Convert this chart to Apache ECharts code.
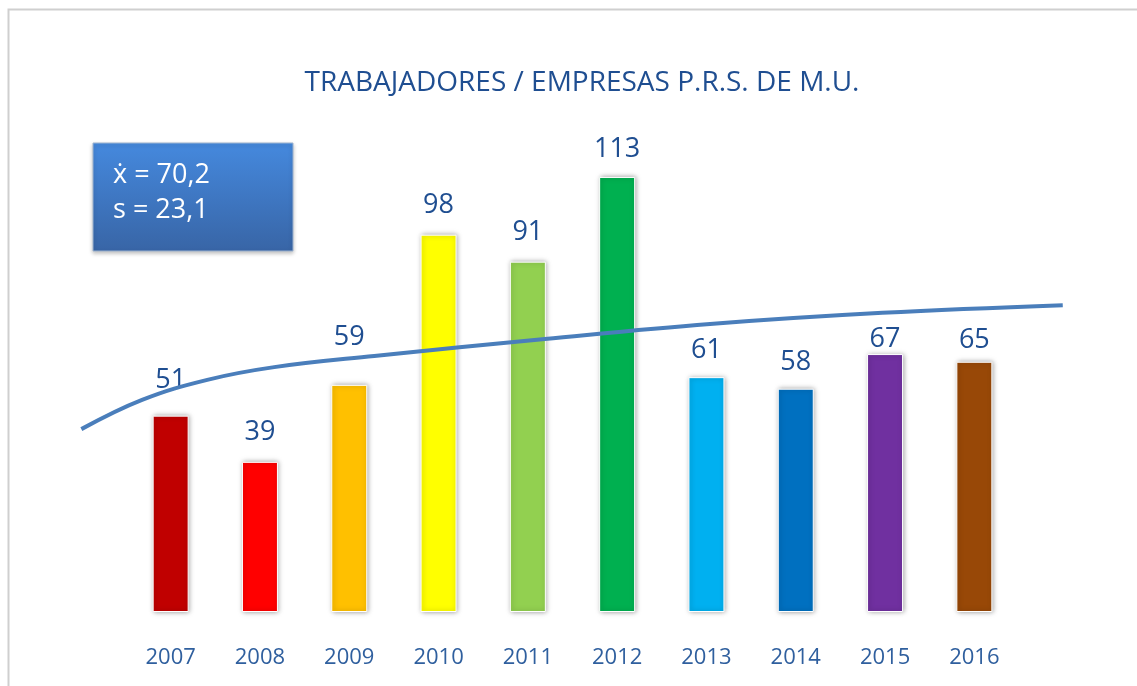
<!DOCTYPE html>
<html>
<head>
<meta charset="utf-8">
<script src="https://cdn.jsdelivr.net/npm/echarts@6/dist/echarts.min.js"></script>
<style>
  html, body { margin: 0; padding: 0; background: #fff; }
  #chart { width: 1137px; height: 686px; }
</style>
</head>
<body>
<div id="chart"></div>
<script>
const years = ["2007", "2008", "2009", "2010", "2011", "2012", "2013", "2014", "2015", "2016"];
const workers = [51, 39, 59, 98, 91, 113, 61, 58, 67, 65];
const barColors = ["#C00000", "#FF0000", "#FFC000", "#FFFF00", "#92D050", "#00B050", "#00B0F0", "#0070C0", "#7030A0", "#984807"];
// log trendline: [position in category units, value]
const trendPoints = [
  [-1.0, 47.5], [-0.32, 55.1], [0.41, 60.3], [1.16, 63.6], [2.28, 66.5],
  [4.19, 70.9], [6.04, 74.8], [7.97, 77.7], [9.99, 79.7]
];
const statsLines = ["ẋ = 70,2", "s = 23,1"];

// some value labels were moved by hand in the original to dodge the trendline
const labelShift = { "2007": -6, "2009": -18, "2012": 2, "2013": 3, "2014": 3, "2015": 15, "2016": 8 };

const chart = echarts.init(document.getElementById("chart"));

// one category band is about 89.3px wide; the trend grid is one band wider on each side
const option = {
  animation: false,
  title: {
    text: "TRABAJADORES / EMPRESAS P.R.S. DE M.U.",
    left: 577,
    textAlign: "center",
    top: 64,
    textStyle: {
      fontFamily: "Open Sans",
      fontSize: 28,
      fontWeight: "normal",
      color: "#1F4E91"
    }
  },
  grid: [
    { left: 126, right: 118, top: 150, bottom: 74 },
    { left: 36.7, right: 28.7, top: 150, bottom: 74 }
  ],
  xAxis: [
    {
      type: "category",
      gridIndex: 0,
      data: years,
      axisLine: { show: false },
      axisTick: { show: false },
      axisLabel: {
        margin: 35,
        fontFamily: "Open Sans",
        fontSize: 22,
        color: "#2F5F9E"
      }
    },
    { type: "value", gridIndex: 1, min: -1.5, max: 10.5, show: false }
  ],
  yAxis: [
    { type: "value", gridIndex: 0, min: 0, max: 120, show: false },
    { type: "value", gridIndex: 1, min: 0, max: 120, show: false }
  ],
  graphic: [
    {
      type: "rect",
      shape: { x: 8.5, y: 9.5, width: 1140, height: 700 },
      style: { fill: "none", stroke: "#CFCFCF", lineWidth: 2 },
      silent: true
    },
    {
      type: "rect",
      shape: { x: 93, y: 143, width: 200, height: 108 },
      style: {
        fill: new echarts.graphic.LinearGradient(0, 0, 0, 1, [
          { offset: 0, color: "#4589DE" },
          { offset: 1, color: "#3865A6" }
        ]),
        stroke: "#9DB3CF",
        lineWidth: 1,
        shadowBlur: 4,
        shadowOffsetY: 2,
        shadowColor: "rgba(0,0,0,0.25)"
      }
    },
    {
      type: "text",
      left: 113,
      top: 158,
      style: {
        text: statsLines.join("\n"),
        fontFamily: "Open Sans",
        fontSize: 27,
        lineHeight: 35,
        fill: "#FFFFFF"
      }
    }
  ],
  series: [
    {
      type: "bar",
      data: workers.map((v, i) => ({
        value: v,
        itemStyle: { color: barColors[i] },
        label: { offset: [0, labelShift[years[i]] || 0] }
      })),
      barWidth: 36,
      itemStyle: {
        borderColor: "#FFFFFF",
        borderWidth: 1,
        shadowBlur: 5,
        shadowOffsetX: 1,
        shadowColor: "rgba(0,0,0,0.35)"
      },
      label: {
        show: true,
        position: "top",
        distance: 16,
        fontFamily: "Open Sans",
        fontSize: 27,
        color: "#1F4E91"
      }
    },
    {
      type: "line",
      xAxisIndex: 1,
      yAxisIndex: 1,
      data: trendPoints,
      smooth: 0.4,
      symbol: "none",
      lineStyle: { color: "#4A7EBB", width: 4 },
      z: 5
    }
  ]
};

chart.setOption(option);
</script>
</body>
</html>
